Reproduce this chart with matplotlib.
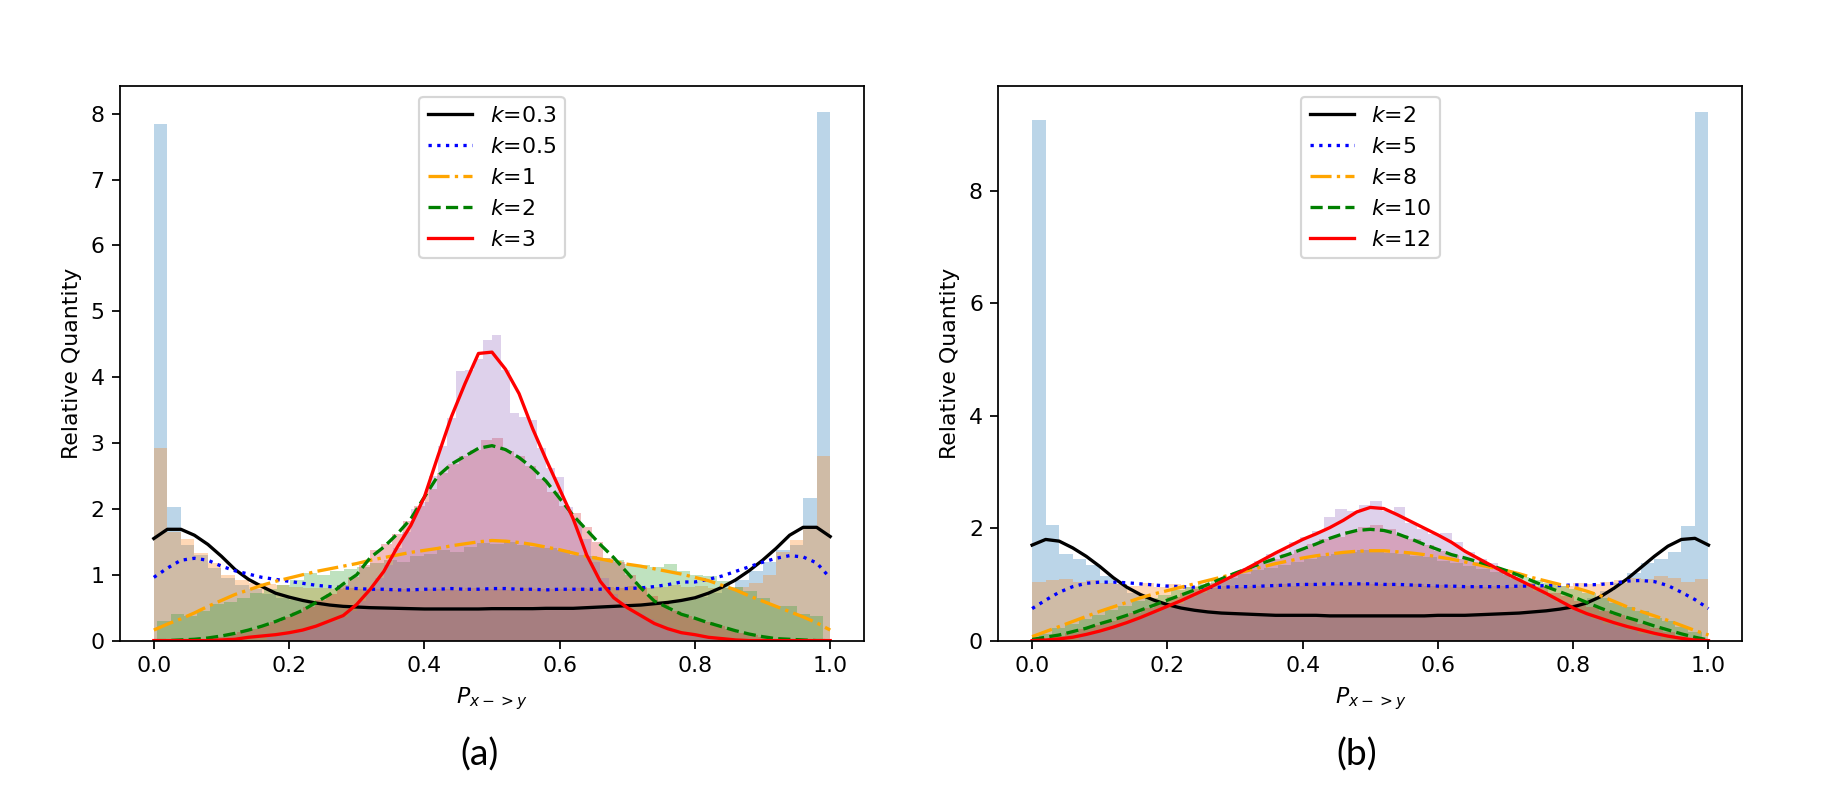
import numpy as np
import matplotlib
matplotlib.use("Agg")
import matplotlib.pyplot as plt

# -----------------------------
# DATA
# -----------------------------

# x positions of the smoothed curves
x_curve = np.round(np.arange(0, 51) * 0.02, 2)

labels_a = ["$k$=0.3", "$k$=0.5", "$k$=1", "$k$=2", "$k$=3"]
labels_b = ["$k$=2", "$k$=5", "$k$=8", "$k$=10", "$k$=12"]

# panel (a) curves
curve_a_k03 = [1.55, 1.69, 1.69, 1.60, 1.46, 1.28, 1.08, 0.93, 0.82, 0.72,
               0.66, 0.61, 0.57, 0.54, 0.52, 0.51, 0.50, 0.495, 0.49, 0.485,
               0.48, 0.48, 0.48, 0.48, 0.48, 0.485, 0.485, 0.485, 0.485, 0.49,
               0.49, 0.49, 0.50, 0.51, 0.52, 0.53, 0.54, 0.56, 0.58, 0.61,
               0.65, 0.72, 0.81, 0.92, 1.06, 1.22, 1.40, 1.60, 1.72, 1.72,
               1.58]
curve_a_k05 = [0.96, 1.10, 1.22, 1.25, 1.22, 1.13, 1.06, 1.01, 0.96, 0.93,
               0.90, 0.87, 0.84, 0.82, 0.80, 0.79, 0.78, 0.78, 0.77, 0.77,
               0.78, 0.78, 0.79, 0.78, 0.78, 0.79, 0.79, 0.78, 0.78, 0.77,
               0.78, 0.78, 0.78, 0.78, 0.79, 0.79, 0.80, 0.82, 0.85, 0.89,
               0.89, 0.93, 0.98, 1.05, 1.12, 1.19, 1.25, 1.29, 1.27, 1.18,
               0.95]
curve_a_k1 = [0.16, 0.25, 0.33, 0.42, 0.52, 0.61, 0.70, 0.77, 0.84, 0.90,
              0.95, 1.00, 1.05, 1.09, 1.13, 1.17, 1.22, 1.26, 1.30, 1.34,
              1.37, 1.40, 1.44, 1.47, 1.50, 1.52, 1.51, 1.49, 1.46, 1.42,
              1.38, 1.33, 1.28, 1.24, 1.20, 1.16, 1.13, 1.09, 1.05, 1.01,
              0.96, 0.91, 0.84, 0.77, 0.68, 0.60, 0.52, 0.44, 0.36, 0.27,
              0.16]
curve_a_k2 = [0.00, 0.00, 0.01, 0.02, 0.04, 0.07, 0.11, 0.16, 0.22, 0.29,
              0.37, 0.46, 0.58, 0.70, 0.86, 1.00, 1.26, 1.42, 1.62, 1.85,
              2.18, 2.50, 2.68, 2.80, 2.92, 2.96, 2.90, 2.78, 2.62, 2.42,
              2.16, 1.90, 1.68, 1.46, 1.26, 1.03, 0.80, 0.60, 0.50, 0.40,
              0.34, 0.27, 0.21, 0.15, 0.10, 0.06, 0.03, 0.02, 0.01, 0.00,
              0.00]
curve_a_k3 = [0.00, 0.00, 0.00, 0.00, 0.00, 0.01, 0.02, 0.05, 0.07, 0.09,
              0.12, 0.16, 0.22, 0.30, 0.38, 0.55, 0.78, 1.05, 1.42, 1.75,
              2.18, 2.80, 3.40, 3.90, 4.36, 4.38, 4.12, 3.75, 3.22, 2.75,
              2.30, 1.85, 1.30, 0.90, 0.65, 0.50, 0.38, 0.26, 0.18, 0.12,
              0.09, 0.05, 0.03, 0.01, 0.00, 0.00, 0.00, 0.00, 0.00, 0.00,
              0.00]

# panel (b) curves
curve_b_k2 = [1.70, 1.80, 1.77, 1.65, 1.50, 1.32, 1.12, 0.95, 0.82, 0.72,
              0.64, 0.58, 0.54, 0.51, 0.49, 0.48, 0.47, 0.46, 0.45, 0.45,
              0.45, 0.45, 0.44, 0.44, 0.44, 0.44, 0.44, 0.44, 0.44, 0.44,
              0.45, 0.45, 0.45, 0.46, 0.47, 0.48, 0.49, 0.51, 0.53, 0.56,
              0.60, 0.67, 0.78, 0.93, 1.10, 1.30, 1.50, 1.68, 1.80, 1.82,
              1.70]
curve_b_k5 = [0.57, 0.72, 0.86, 0.96, 1.02, 1.04, 1.04, 1.03, 1.01, 0.99,
              0.97, 0.96, 0.95, 0.95, 0.95, 0.96, 0.96, 0.97, 0.98, 0.99,
              1.00, 1.00, 1.01, 1.01, 1.01, 1.01, 1.00, 1.00, 0.99, 0.98,
              0.97, 0.97, 0.96, 0.96, 0.96, 0.96, 0.97, 0.97, 0.98, 0.98,
              0.99, 0.99, 1.00, 1.02, 1.06, 1.07, 1.05, 0.98, 0.86, 0.73,
              0.57]
curve_b_k8 = [0.07, 0.16, 0.25, 0.34, 0.43, 0.52, 0.60, 0.68, 0.76, 0.83,
              0.89, 0.95, 1.01, 1.07, 1.13, 1.19, 1.25, 1.31, 1.37, 1.42,
              1.47, 1.51, 1.54, 1.57, 1.59, 1.60, 1.60, 1.58, 1.56, 1.53,
              1.49, 1.45, 1.40, 1.35, 1.30, 1.25, 1.19, 1.12, 1.06, 1.00,
              0.95, 0.88, 0.80, 0.70, 0.60, 0.52, 0.44, 0.36, 0.27, 0.18,
              0.10]
curve_b_k10 = [0.02, 0.06, 0.10, 0.16, 0.22, 0.30, 0.37, 0.45, 0.54, 0.63,
               0.72, 0.81, 0.90, 1.00, 1.10, 1.20, 1.29, 1.38, 1.46, 1.54,
               1.63, 1.72, 1.82, 1.90, 1.96, 1.98, 1.96, 1.90, 1.81, 1.71,
               1.62, 1.53, 1.47, 1.40, 1.33, 1.25, 1.16, 1.06, 0.96, 0.87,
               0.78, 0.68, 0.58, 0.49, 0.41, 0.34, 0.26, 0.19, 0.12, 0.06,
               0.01]
curve_b_k12 = [0.00, 0.01, 0.03, 0.06, 0.11, 0.17, 0.24, 0.32, 0.41, 0.51,
               0.61, 0.71, 0.82, 0.93, 1.05, 1.17, 1.30, 1.43, 1.56, 1.68,
               1.80, 1.90, 2.01, 2.14, 2.29, 2.37, 2.35, 2.24, 2.12, 2.00,
               1.88, 1.75, 1.59, 1.46, 1.33, 1.20, 1.08, 0.96, 0.84, 0.71,
               0.58, 0.48, 0.40, 0.32, 0.25, 0.19, 0.13, 0.08, 0.04, 0.01,
               0.00]

# histogram ranges (each histogram has 50 bins over its own data range)
hist_range_a = [(0.0, 1.0), (0.0, 1.0), (0.005, 0.99), (0.09, 0.91), (0.1667, 0.8333)]
hist_range_b = [(0.0, 1.0), (0.0, 1.0), (0.01, 0.99), (0.03, 0.97), (0.07, 0.93)]

# panel (a) histogram heights
hist_a_k03 = [7.85, 2.03, 1.45, 1.30, 1.10, 0.95, 0.85, 0.78, 0.70, 0.65,
              0.62, 0.58, 0.55, 0.53, 0.52, 0.50, 0.50, 0.48, 0.49, 0.47,
              0.48, 0.50, 0.47, 0.49, 0.48, 0.50, 0.49, 0.47, 0.50, 0.48,
              0.49, 0.50, 0.51, 0.50, 0.52, 0.53, 0.55, 0.56, 0.58, 0.62,
              0.66, 0.72, 0.80, 0.92, 1.05, 1.20, 1.38, 1.45, 2.17, 8.02]
hist_a_k05 = [2.92, 1.65, 1.55, 1.33, 1.18, 1.00, 0.92, 0.88, 0.86, 0.84,
              0.82, 0.80, 0.80, 0.79, 0.80, 0.78, 0.79, 0.77, 0.78, 0.76,
              0.79, 0.78, 0.77, 0.80, 0.78, 0.79, 0.77, 0.80, 0.78, 0.79,
              0.78, 0.80, 0.79, 0.82, 0.80, 0.83, 0.80, 0.82, 0.84, 0.82,
              0.83, 0.80, 0.80, 0.82, 0.87, 1.00, 1.35, 1.53, 1.70, 2.80]
hist_a_k1 = [0.30, 0.40, 0.38, 0.45, 0.55, 0.58, 0.65, 0.72, 0.78, 0.85,
             0.92, 1.03, 1.00, 1.05, 1.08, 1.12, 1.18, 1.22, 1.20, 1.28,
             1.32, 1.38, 1.35, 1.42, 1.48, 1.46, 1.50, 1.45, 1.42, 1.40,
             1.38, 1.30, 1.28, 1.25, 1.22, 1.16, 1.15, 1.12, 1.16, 1.05,
             1.00, 0.98, 0.90, 0.82, 0.75, 0.65, 0.52, 0.52, 0.40, 0.38]
hist_a_k2 = [0.06, 0.10, 0.13, 0.18, 0.23, 0.29, 0.36, 0.43, 0.51, 0.62,
             0.71, 0.85, 0.97, 1.15, 1.38, 1.46, 1.62, 1.82, 2.05, 2.30,
             2.55, 2.68, 2.80, 2.90, 3.05, 3.08, 2.88, 2.80, 2.65, 2.45,
             2.25, 2.05, 1.93, 1.73, 1.50, 1.25, 1.20, 1.00, 0.82, 0.68,
             0.55, 0.45, 0.38, 0.33, 0.28, 0.22, 0.17, 0.12, 0.08, 0.05]
hist_a_k3 = [0.05, 0.08, 0.10, 0.13, 0.17, 0.20, 0.25, 0.30, 0.36, 0.45,
             0.60, 0.78, 0.95, 1.15, 1.40, 1.65, 2.00, 2.10, 2.50, 2.95,
             3.38, 4.09, 4.11, 4.27, 4.57, 4.64, 4.11, 3.45, 3.40, 3.35,
             2.92, 2.62, 2.49, 2.03, 1.80, 1.55, 1.20, 0.95, 0.70, 0.58,
             0.45, 0.40, 0.33, 0.25, 0.20, 0.15, 0.12, 0.09, 0.07, 0.05]

# panel (b) histogram heights
hist_b_k2 = [9.26, 2.06, 1.55, 1.45, 1.35, 1.15, 1.00, 0.85, 0.75, 0.68,
             0.62, 0.57, 0.52, 0.50, 0.48, 0.47, 0.46, 0.45, 0.44, 0.45,
             0.44, 0.43, 0.45, 0.44, 0.43, 0.45, 0.44, 0.43, 0.44, 0.45,
             0.43, 0.44, 0.45, 0.46, 0.47, 0.48, 0.50, 0.52, 0.55, 0.58,
             0.65, 0.75, 0.88, 1.02, 1.20, 1.38, 1.45, 1.58, 2.04, 9.40]
hist_b_k5 = [1.05, 1.08, 1.10, 1.05, 1.08, 1.02, 1.00, 0.98, 1.02, 0.96,
             1.00, 0.95, 0.98, 0.94, 0.97, 0.95, 0.98, 0.96, 1.00, 0.97,
             1.02, 0.98, 1.01, 0.99, 1.03, 1.00, 1.02, 0.98, 1.00, 0.97,
             0.99, 0.96, 0.98, 0.95, 0.97, 0.96, 0.99, 0.97, 1.00, 0.98,
             1.02, 1.00, 1.05, 1.08, 1.11, 1.10, 1.15, 1.12, 1.05, 1.09]
hist_b_k8 = [0.12, 0.22, 0.30, 0.38, 0.45, 0.55, 0.62, 0.70, 0.75, 0.82,
             0.90, 0.95, 1.00, 1.08, 1.12, 1.18, 1.25, 1.30, 1.35, 1.40,
             1.45, 1.50, 1.55, 1.58, 1.62, 1.60, 1.56, 1.55, 1.50, 1.48,
             1.42, 1.38, 1.33, 1.28, 1.22, 1.16, 1.14, 1.08, 1.02, 0.98,
             0.92, 0.85, 0.76, 0.67, 0.60, 0.52, 0.40, 0.35, 0.25, 0.15]
hist_b_k10 = [0.08, 0.14, 0.20, 0.28, 0.35, 0.42, 0.50, 0.58, 0.67, 0.78,
              0.84, 0.92, 1.02, 1.12, 1.20, 1.30, 1.40, 1.45, 1.55, 1.62,
              1.72, 1.80, 1.85, 1.95, 2.02, 2.05, 1.98, 1.88, 1.80, 1.70,
              1.60, 1.52, 1.45, 1.40, 1.30, 1.24, 1.12, 1.02, 0.95, 0.85,
              0.80, 0.70, 0.60, 0.52, 0.45, 0.38, 0.30, 0.22, 0.15, 0.08]
hist_b_k12 = [0.10, 0.14, 0.20, 0.26, 0.34, 0.42, 0.50, 0.58, 0.66, 0.78,
              0.85, 0.98, 1.08, 1.18, 1.30, 1.42, 1.55, 1.62, 1.75, 1.85,
              1.95, 2.20, 2.35, 2.30, 2.41, 2.49, 2.30, 2.38, 2.10, 1.98,
              1.90, 1.92, 1.75, 1.58, 1.45, 1.38, 1.22, 1.10, 1.00, 0.88,
              0.80, 0.68, 0.55, 0.45, 0.38, 0.30, 0.24, 0.18, 0.12, 0.08]

# -----------------------------
# STYLE
# -----------------------------

line_colors = ["black", "blue", "orange", "green", "red"]
line_styles = ["-", ":", "-.", "--", "-"]

panels = [
    dict(curves=[curve_a_k03, curve_a_k05, curve_a_k1, curve_a_k2, curve_a_k3],
         hists=[hist_a_k03, hist_a_k05, hist_a_k1, hist_a_k2, hist_a_k3],
         ranges=hist_range_a, labels=labels_a, tag="(a)"),
    dict(curves=[curve_b_k2, curve_b_k5, curve_b_k8, curve_b_k10, curve_b_k12],
         hists=[hist_b_k2, hist_b_k5, hist_b_k8, hist_b_k10, hist_b_k12],
         ranges=hist_range_b, labels=labels_b, tag="(b)"),
]

DPI = 158
fig = plt.figure(figsize=(1838 / DPI, 798 / DPI), dpi=DPI)

ax_rects = [
    [120 / 1838, 1 - 640.6 / 798, 744 / 1838, 554.6 / 798],
    [998.3 / 1838, 1 - 640.6 / 798, 744 / 1838, 554.6 / 798],
]
tag_x = [479.5 / 1838, 1357 / 1838]

for p, rect, tx in zip(panels, ax_rects, tag_x):
    ax = fig.add_axes(rect)

    # histograms (default colour cycle, light alpha)
    for i, (heights, (lo, hi)) in enumerate(zip(p["hists"], p["ranges"])):
        edges = np.linspace(lo, hi, len(heights) + 1)
        ax.bar(edges[:-1], heights, width=np.diff(edges), align="edge",
               color=f"C{i}", alpha=0.3, linewidth=0)

    # smoothed curves
    for curve, c, ls, lab in zip(p["curves"], line_colors, line_styles, p["labels"]):
        ax.plot(x_curve, curve, color=c, linestyle=ls, label=lab)

    ax.set_xlabel("$P_{x->y}$")
    ax.set_ylabel("Relative Quantity")
    ax.legend(loc="upper center")

    fig.text(tx, 0.054, p["tag"], ha="center", va="center",
             fontsize=17, family=["Lato", "DejaVu Sans"])

fig.savefig("out.png", dpi=DPI)
